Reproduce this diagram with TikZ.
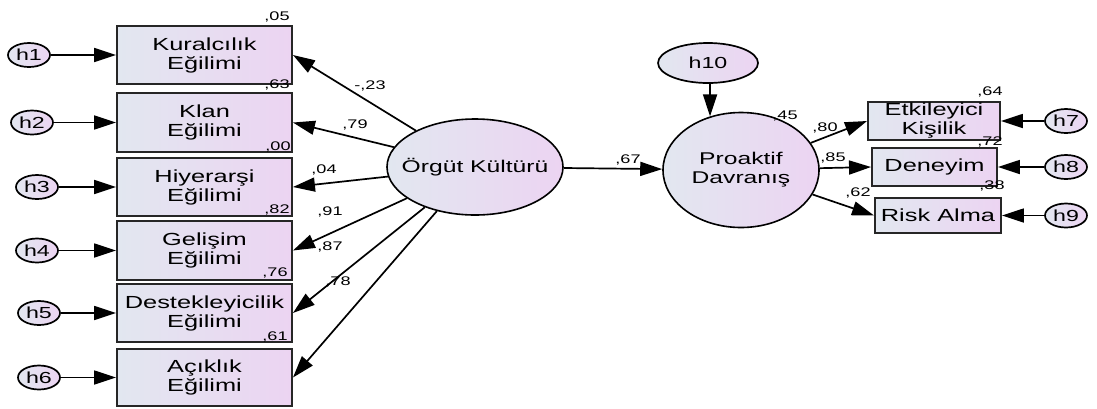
\documentclass[tikz,border=0pt]{standalone}
\usepackage{fontspec}
\setmainfont[FakeStretch=1.45]{Liberation Sans}
\usetikzlibrary{shapes.geometric,arrows.meta}
\definecolor{gA}{RGB}{226,231,240}
\definecolor{gB}{RGB}{236,212,242}
\tikzset{
  obs/.style={draw=black!85, line width=1.9pt, left color=gA, right color=gB,
    minimum width=175pt, minimum height=58pt, inner sep=0pt, align=center,
    font=\fontsize{17.5}{19}\selectfont},
  obsr/.style={obs, minimum height=38pt},
  err/.style={ellipse, draw, line width=1.7pt, left color=gA, right color=gB,
    minimum width=42pt, minimum height=24pt, inner sep=0pt,
    font=\fontsize{16}{18}\selectfont},
  lat/.style={ellipse, draw, line width=1.6pt, left color=gA, right color=gB, inner sep=0pt},
  lattext/.style={align=center, inner sep=0pt, font=\fontsize{17}{19}\selectfont},
  conn/.style={line width=1.7pt, -{Triangle[length=22pt,width=14pt]}},
  lbl/.style={font=\fontsize{12.5}{14}\selectfont, inner sep=0pt}
}
\begin{document}
\begin{tikzpicture}[x=1pt,y=-1pt]
\useasboundingbox (0,0) rectangle (1097,408);
% observed left
\node[obs] (b1) at (204.5,55) {Kuralcılık\\Eğilimi};
\node[obs, minimum height=59pt] (b2) at (204.5,122.5) {Klan\\Eğilimi};
\node[obs] (b3) at (204.5,187) {Hiyerarşi\\Eğilimi};
\node[obs, minimum height=59pt] (b4) at (204.5,250.5) {Gelişim\\Eğilimi};
\node[obs] (b5) at (204.5,313) {Destekleyicilik\\Eğilimi};
\node[obs, minimum height=57pt] (b6) at (204.5,377.5) {Açıklık\\Eğilimi};
% errors left
\node[err] (h1) at (29,55) {h1};
\node[err] (h2) at (32,122.5) {h2};
\node[err] (h3) at (37,187) {h3};
\node[err] (h4) at (37,250.5) {h4};
\node[err] (h5) at (39,313) {h5};
\node[err] (h6) at (39,377.5) {h6};
% latent
\node[lat, minimum width=176pt, minimum height=96pt] (ok) at (475,167) {};
\node[lattext] (okt) at (ok.center) {Örgüt Kültürü};
\node[lat, minimum width=156pt, minimum height=115pt] (pd) at (741,170) {};
\node[lattext] (pdt) at (pd.center) {Proaktif\\Davranış};
\node[err, minimum width=100pt, minimum height=40pt] (h10) at (708,63) {h10};
% observed right
\node[obsr, minimum width=132pt] (b7) at (934,121) {Etkileyici\\Kişilik};
\node[obsr, minimum width=125pt] (b8) at (934.5,167) {Deneyim};
\node[obsr, minimum width=126pt, minimum height=35pt] (b9) at (938,215.5) {Risk Alma};
\node[err] (h7) at (1066,121) {h7};
\node[err] (h8) at (1066,167) {h8};
\node[err] (h9) at (1066,215.5) {h9};
% connectors
\foreach \i in {1,...,6} {\draw[conn] (h\i) -- (b\i.west);}
\foreach \i in {1,...,6} {\draw[conn] (ok) -- (b\i.east);}
\draw[conn] (ok) -- (pd);
\draw[conn] (h10.south -| pd.120) -- (pd.120);
\draw[conn] (pd) -- (b7.west);
\draw[conn] (pd) -- (b8.west);
\draw[conn] (pd) -- (b9.west);
\draw[conn] (h7) -- (b7.east);
\draw[conn] (h8) -- (b8.east);
\draw[conn] (h9) -- (b9.east);
% labels
\node[lbl] (l05) at (277,17) {,05};
\node[lbl] (l63) at (277,85) {,63};
\node[lbl] (l00) at (278,147) {,00};
\node[lbl] (l82) at (277,210) {,82};
\node[lbl] (l76) at (275,273) {,76};
\node[lbl] (l61) at (275,337) {,61};
\node[lbl] (l23) at (370,86) {-,23};
\node[lbl] (l79) at (355,125) {,79};
\node[lbl] (l04) at (324,170) {,04};
\node[lbl] (l91) at (330,212) {,91};
\node[lbl] (l87) at (330,247) {,87};
\node[lbl] (l78) at (338,282) {,78};
\node[lbl] (l67) at (628,160) {,67};
\node[lbl] (l45) at (785,116) {,45};
\node[lbl] (l80) at (825,128) {,80};
\node[lbl] (l85) at (833,158) {,85};
\node[lbl] (l62) at (858,193) {,62};
\node[lbl] (l64) at (990,92) {,64};
\node[lbl] (l72) at (990,142) {,72};
\node[lbl] (l38) at (992,186) {,38};
\end{tikzpicture}
\end{document}
